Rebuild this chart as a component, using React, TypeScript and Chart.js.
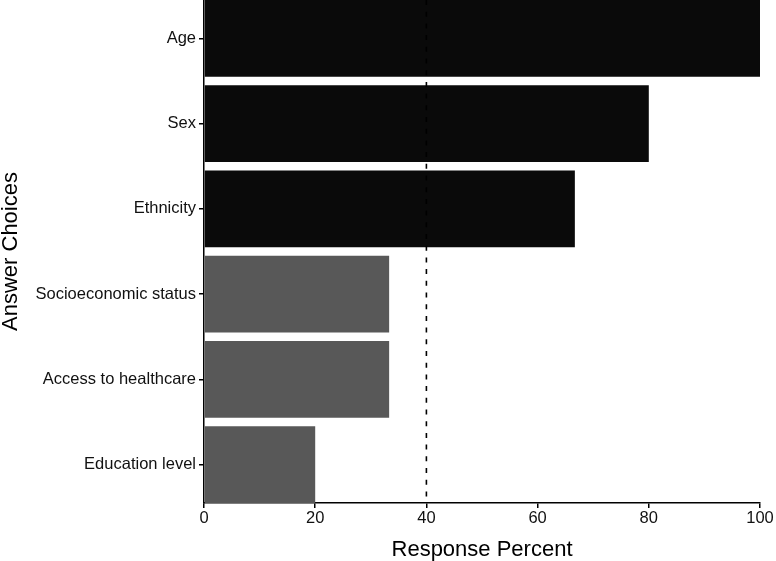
import React, { useEffect, useRef } from "react";
import { Chart, registerables } from "chart.js";

Chart.register(...registerables);

const categories = [
  "Age",
  "Sex",
  "Ethnicity",
  "Socioeconomic status",
  "Access to healthcare",
  "Education level",
];
const responsePercent = [100, 80, 66.7, 33.3, 33.3, 20];
const groups = ["high", "high", "high", "low", "low", "low"];
const groupColors: Record<string, string> = { high: "#0a0a0a", low: "#585858" };
const xTicks = [0, 20, 40, 60, 80, 100];
const referenceLine = 40;

const FONT = "'Liberation Sans', Arial, Helvetica, sans-serif";

const refLinePlugin = {
  id: "refLine",
  afterDatasetsDraw(chart: any) {
    const { ctx, chartArea, scales } = chart;
    const x = scales.x.getPixelForValue(referenceLine);
    ctx.save();
    ctx.strokeStyle = "#000";
    ctx.lineWidth = 1.6;
    ctx.setLineDash([5, 6.7]);
    ctx.beginPath();
    ctx.moveTo(x, chartArea.top);
    ctx.lineTo(x, chartArea.bottom);
    ctx.stroke();
    ctx.restore();
  },
};

export default function App() {
  const canvasRef = useRef<HTMLCanvasElement | null>(null);

  useEffect(() => {
    if (!canvasRef.current) return;
    const chart = new Chart(canvasRef.current, {
      type: "bar",
      data: {
        datasets: [
          {
            data: responsePercent.map((v, i) => ({ x: v, y: i })) as any,
            backgroundColor: groups.map((g) => groupColors[g]),
            borderWidth: 0,
            barPercentage: 0.9,
            categoryPercentage: 1,
          },
        ],
      },
      options: {
        indexAxis: "y",
        animation: false,
        responsive: false,
        maintainAspectRatio: false,
        layout: { padding: { left: 0, right: 16, top: 0, bottom: 0 } },
        plugins: {
          legend: { display: false },
          tooltip: { enabled: false },
        },
        scales: {
          x: {
            type: "linear",
            min: 0,
            max: 100,
            afterBuildTicks: (s: any) => {
              s.ticks = xTicks.map((v) => ({ value: v }));
            },
            afterFit: (s: any) => {
              s.height = 58;
            },
            grid: {
              display: true,
              drawOnChartArea: false,
              drawTicks: true,
              tickLength: 5,
              color: "#000",
              lineWidth: 1.5,
            },
            border: { display: true, color: "#000", width: 1.5 },
            ticks: {
              font: { family: FONT, size: 16.5 },
              color: "#111",
              padding: 1,
              maxRotation: 0,
            },
            title: {
              display: true,
              text: "Response Percent",
              font: { family: FONT, size: 22 },
              color: "#000",
              padding: { top: 0, bottom: -2 },
            },
          },
          y: {
            type: "linear",
            reverse: true,
            offset: false,
            min: -0.45,
            max: 5.45,
            afterBuildTicks: (s: any) => {
              s.ticks = categories.map((_, i) => ({ value: i }));
            },
            afterFit: (s: any) => {
              s.width = 204;
              s.paddingTop = 0;
              s.paddingBottom = 0;
            },
            grid: {
              display: true,
              offset: false,
              drawOnChartArea: false,
              drawTicks: true,
              tickLength: 5,
              color: "#000",
              lineWidth: 1.5,
            },
            border: { display: true, color: "#000", width: 1.5 },
            ticks: {
              font: { family: FONT, size: 16.5 },
              color: "#111",
              padding: 3,
              callback: (v: any) => categories[Math.round(Number(v))] ?? "",
            },
            title: {
              display: true,
              text: "Answer Choices",
              font: { family: FONT, size: 22 },
              color: "#000",
              padding: { top: -2, bottom: 0 },
            },
          },
        },
      } as any,
      plugins: [refLinePlugin],
    });
    return () => chart.destroy();
  }, []);

  return (
    <div style={{ position: "absolute", left: 0, top: 0, width: 776, height: 561, background: "#fff" }}>
      <canvas ref={canvasRef} width={776} height={561} style={{ display: "block" }} />
    </div>
  );
}
